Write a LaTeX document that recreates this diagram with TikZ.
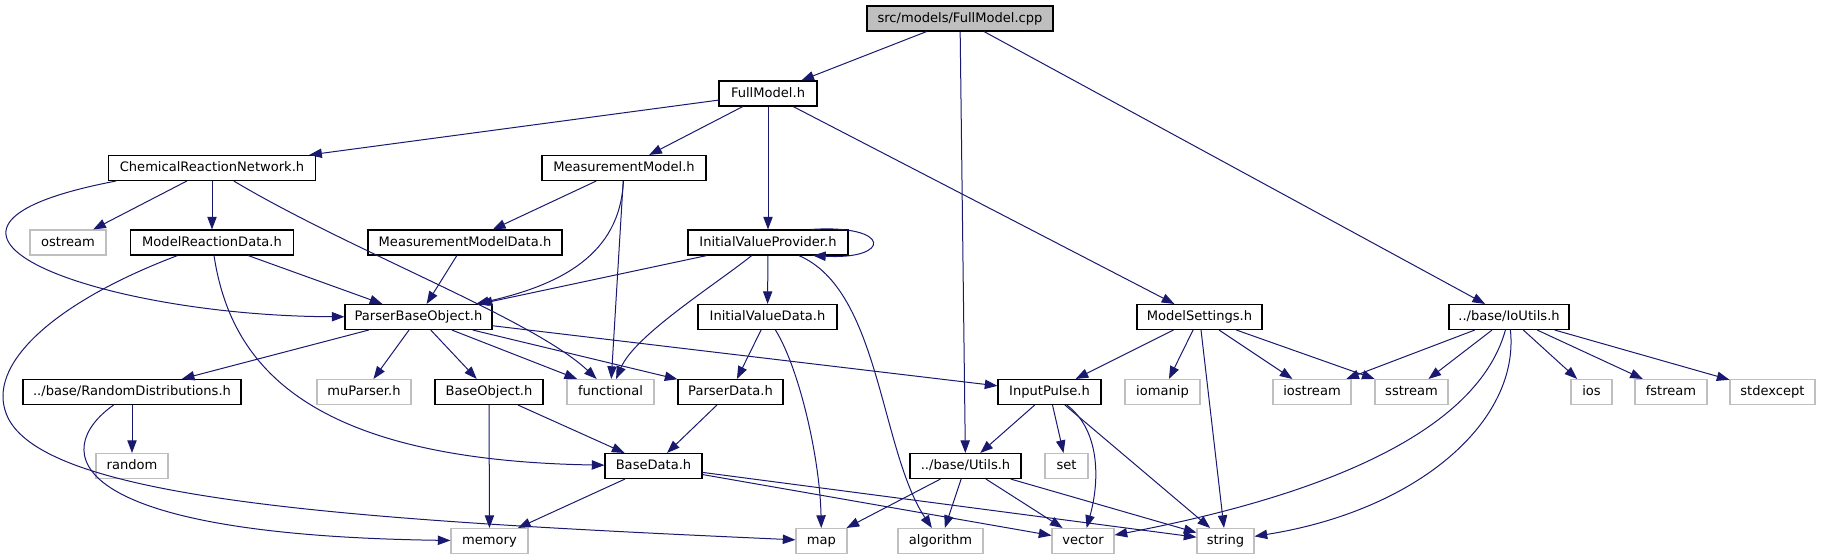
\documentclass[tikz,border=0pt]{standalone}
\usepackage{fontspec}
\setmainfont{DejaVu Sans}
\usetikzlibrary{arrows.meta, calc}

\definecolor{edgeblue}{HTML}{191970}
\definecolor{sysgray}{HTML}{BFBFBF}

\begin{document}
\begin{tikzpicture}[x=0.75pt, y=-0.75pt,
  font=\fontsize{9.8}{12}\selectfont,
  hdr/.style={draw=black, line width=0.8pt, fill=white, minimum height=18.75pt,
    inner sep=0pt, text height=7.5pt, text depth=2pt},
  sys/.style={hdr, draw=sysgray},
  srcfile/.style={hdr, fill=sysgray},
  dep/.style={draw=edgeblue, line width=0.75pt, -{Triangle[length=9.5pt, width=7pt]}}]
  \useasboundingbox (0,0) rectangle (1834,560);

  % top rows
  \node[srcfile, minimum width=139.5pt] (root) at (960,18.5) {src/models/FullModel.cpp};
  \node[hdr, minimum width=73.5pt] (fm) at (768,93.5) {FullModel.h};
  \node[hdr, minimum width=155.25pt] (crn) at (212,168) {ChemicalReactionNetwork.h};
  \node[hdr, minimum width=123pt] (mm) at (624,168) {MeasurementModel.h};
  \node[sys, minimum width=57pt] (ostream) at (68,242.5) {ostream};
  \node[hdr, minimum width=122.25pt] (mrd) at (212,242.5) {ModelReactionData.h};
  \node[hdr, minimum width=145.5pt] (mmd) at (465,242.5) {MeasurementModelData.h};
  \node[hdr, minimum width=120pt] (ivp) at (768,242.5) {InitialValueProvider.h};
  \node[hdr, minimum width=110.25pt] (pbo) at (418.5,317) {ParserBaseObject.h};
  \node[hdr, minimum width=104.25pt] (ivd) at (767.5,317) {InitialValueData.h};
  \node[hdr, minimum width=93.75pt] (ms) at (1199.5,317) {ModelSettings.h};
  \node[hdr, minimum width=90pt] (io) at (1509,317) {../base/IoUtils.h};

  % row of includes
  \node[hdr, minimum width=163.5pt] (rd) at (132,392) {../base/RandomDistributions.h};
  \node[sys, minimum width=70.5pt] (mup) at (364,392) {muParser.h};
  \node[hdr, minimum width=81pt] (bo) at (489,392) {BaseObject.h};
  \node[sys, minimum width=65.25pt] (func) at (610.5,392) {functional};
  \node[hdr, minimum width=78.75pt] (pd) at (730.5,392) {ParserData.h};
  \node[hdr, minimum width=77.25pt] (ip) at (1049.5,392) {InputPulse.h};
  \node[sys, minimum width=56.25pt] (iomanip) at (1162.5,392) {iomanip};
  \node[sys, minimum width=58.5pt] (iostream) at (1312,392) {iostream};
  \node[sys, minimum width=54.75pt] (sstream) at (1411.5,392) {sstream};
  \node[sys, minimum width=30.75pt] (ios) at (1591.5,392) {ios};
  \node[sys, minimum width=54pt] (fstream) at (1671,392) {fstream};
  \node[sys, minimum width=63.75pt] (stdexcept) at (1772.5,392) {stdexcept};

  \node[sys, minimum width=54pt] (random) at (132,466) {random};
  \node[hdr, minimum width=72.75pt] (bd) at (653.5,466) {BaseData.h};
  \node[hdr, minimum width=83.25pt] (utils) at (965.5,466) {../base/Utils.h};
  \node[sys, minimum width=32.25pt] (set) at (1066.5,466) {set};

  % bottom row
  \node[sys, minimum width=57.75pt] (memory) at (489.5,541) {memory};
  \node[sys, minimum width=38.25pt] (map) at (821.5,541) {map};
  \node[sys, minimum width=63.75pt] (algorithm) at (940.5,541) {algorithm};
  \node[sys, minimum width=46.5pt] (vector) at (1083,541) {vector};
  \node[sys, minimum width=42.75pt] (string) at (1225.5,541) {string};

  % includes of the source file
  \draw[dep] (root) -- (fm);
  \draw[dep] (root) -- (utils);
  \draw[dep] (root) -- (io);

  % FullModel.h
  \draw[dep] (fm) -- (crn);
  \draw[dep] (fm) -- (mm);
  \draw[dep] (fm) -- (ivp);
  \draw[dep] (fm) -- (ms);

  % ChemicalReactionNetwork.h
  \draw[dep] (crn) -- (ostream);
  \draw[dep] (crn) -- (mrd);
  \draw[dep] ($(crn.south west)+(8,0)$) .. controls (-140,230) and (100,316) .. (pbo);
  \draw[dep] (crn) .. controls (351,251) and (533,319) .. (func);

  % MeasurementModel.h
  \draw[dep] (mm) -- (mmd);
  \draw[dep] (mm) .. controls (620,255) and (560,285) .. (pbo);
  \draw[dep] (mm) -- (func);

  % InitialValueProvider.h
  \draw[dep] ($(ivp.north)+(43,0)$) .. controls (892,224) and (892,260) .. ($(ivp.south)+(45,0)$);
  \draw[dep] (ivp) -- (pbo);
  \draw[dep] (ivp) .. controls (715,285) and (635,335) .. (func);
  \draw[dep] (ivp) -- (ivd);
  \draw[dep] (ivp) .. controls (880,290) and (880,450) .. (algorithm);

  % ModelReactionData.h and MeasurementModelData.h
  \draw[dep] (mrd) -- (pbo);
  \draw[dep] (mrd) .. controls (230,360) and (300,460) .. (bd);
  \draw[dep] (mrd) .. controls (60,300) and (-10,360) .. (5,410)
    .. controls (30,500) and (350,520) .. (map);
  \draw[dep] (mmd) -- (pbo);

  % ParserBaseObject.h
  \draw[dep] (pbo) -- (rd);
  \draw[dep] (pbo) -- (mup);
  \draw[dep] (pbo) -- (bo);
  \draw[dep] (pbo) -- (func);
  \draw[dep] (pbo) -- (pd);
  \draw[dep] (pbo) -- (ip);

  % InitialValueData.h
  \draw[dep] (ivd) -- (pd);
  \draw[dep] (ivd) .. controls (800,370) and (820,460) .. (map);

  % ModelSettings.h
  \draw[dep] (ms) -- (ip);
  \draw[dep] (ms) -- (iomanip);
  \draw[dep] (ms) -- (iostream);
  \draw[dep] (ms) -- (sstream);
  \draw[dep] (ms) -- (string);

  % IoUtils.h
  \draw[dep] (io) -- (iostream);
  \draw[dep] (io) -- (sstream);
  \draw[dep] (io) .. controls (1475,440) and (1300,500) .. (vector);
  \draw[dep] (io) .. controls (1520,420) and (1420,510) .. (string);
  \draw[dep] (io) -- (ios);
  \draw[dep] (io) -- (fstream);
  \draw[dep] (io) -- (stdexcept);

  % RandomDistributions.h, BaseObject.h, ParserData.h
  \draw[dep] (rd) -- (random);
  \draw[dep] (rd) .. controls (50,450) and (60,535) .. (memory);
  \draw[dep] (bo) -- (memory);
  \draw[dep] (bo) -- (bd);
  \draw[dep] (pd) -- (bd);

  % InputPulse.h
  \draw[dep] (ip) -- (utils);
  \draw[dep] (ip) -- (set);
  \draw[dep] (ip) .. controls (1100,430) and (1100,480) .. (vector);
  \draw[dep] (ip) -- (string);

  % BaseData.h
  \draw[dep] (bd) -- (memory);
  \draw[dep] (bd) -- (vector);
  \draw[dep] (bd) -- (string);

  % Utils.h
  \draw[dep] (utils) -- (map);
  \draw[dep] (utils) -- (algorithm);
  \draw[dep] (utils) -- (vector);
  \draw[dep] (utils) -- (string);
\end{tikzpicture}
\end{document}
